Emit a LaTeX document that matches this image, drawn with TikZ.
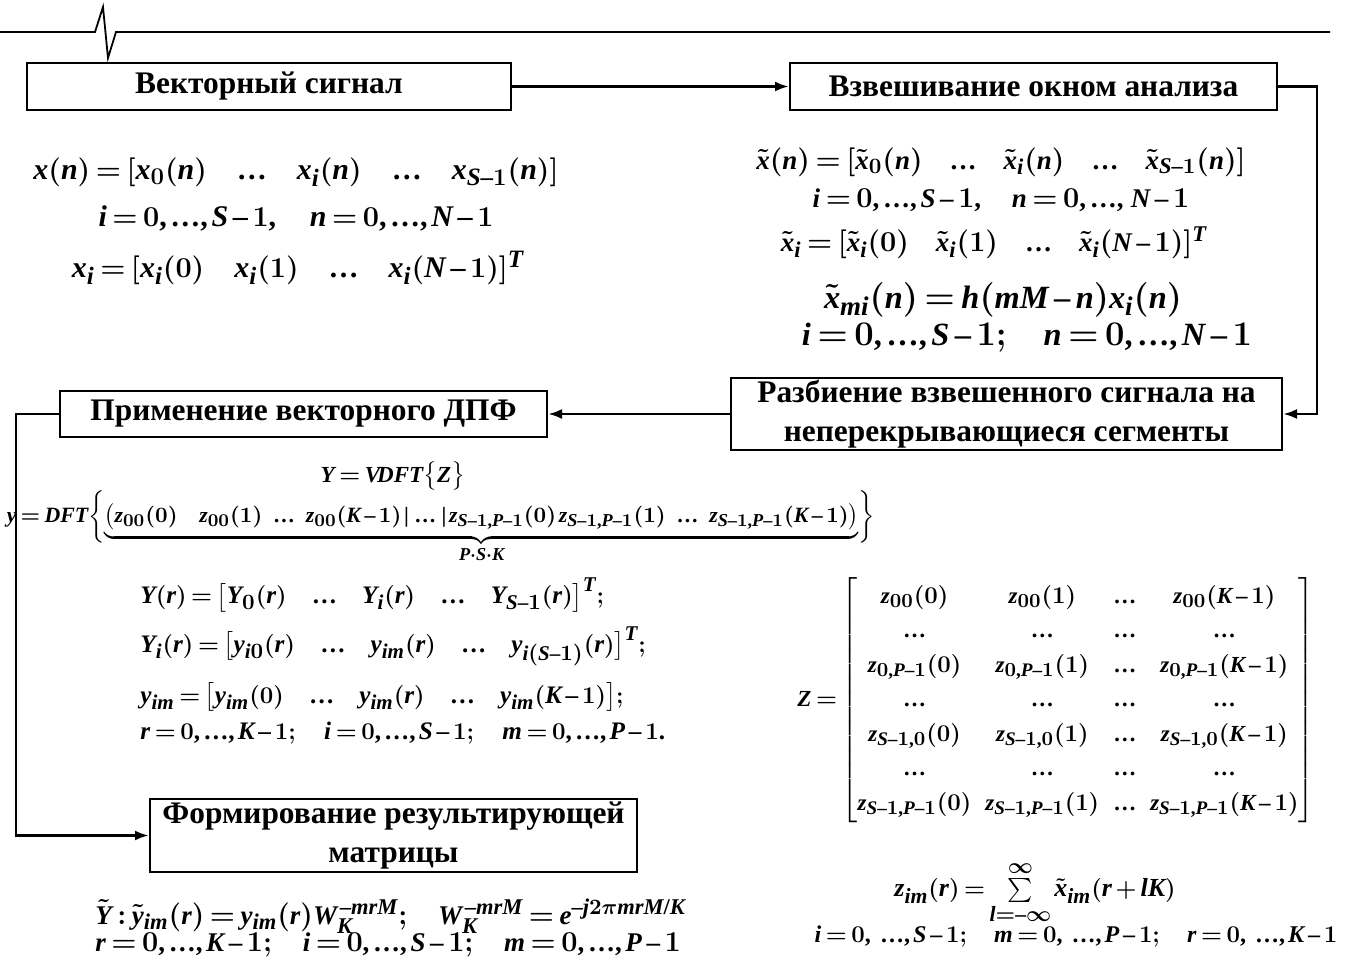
\documentclass[tikz,border=0pt]{standalone}
\usepackage{amsmath}
\usepackage{fontspec}
\setmainfont{Liberation Serif}
\usepackage[italic]{mathastext}
\usetikzlibrary{arrows.meta}
\newcommand\dts{\mbox{\normalfont\bfseries …}}
\tikzset{
  box/.style={draw,line width=1pt,inner sep=0pt,align=center,font=\fontsize{15.7}{19.5}\selectfont\bfseries},
  conn/.style={line width=1.4pt,-{Latex[length=7pt,width=5pt]}},
  fm/.style={inner sep=0pt},
}
\newcommand\fmfont[1]{\fontsize{#1}{#1}\selectfont\bfseries\boldmath\thinmuskip=2mu\relax\medmuskip=2.5mu\relax\thickmuskip=3mu\relax}
\begin{document}
\begin{tikzpicture}[x=0.5pt,y=-0.5pt]
\useasboundingbox (0,0) rectangle (1345,973);
% top rule with spike
\draw[line width=0.9pt] (0,32) -- (95,32) -- (103,7) -- (108,58) -- (116,32) -- (1330,32);
% boxes
\node[box,minimum width=242pt,minimum height=23.5pt] (b1) at (269,86.5) {Векторный сигнал};
\node[box,minimum width=243.5pt,minimum height=23.5pt] (b2) at (1033.5,86.5) {Взвешивание окном анализа};
\node[box,minimum width=275.5pt,minimum height=36pt] (b3) at (1006.5,414) {Разбиение взвешенного сигнала на\\неперекрывающиеся сегменты};
\node[box,minimum width=243.5pt,minimum height=23pt] (b4) at (303.5,414) {Применение векторного ДПФ};
\node[box,minimum width=243.5pt,minimum height=36.5pt] (b5) at (393.5,835.5) {Формирование результирующей\\матрицы};
% connectors
\draw[conn] (b1) -- (b2);
\draw[conn] (b2.east) -- ++(39,0) |- (b3.east);
\draw[conn] (b3) -- (b4);
\draw[conn] (b4.west) -- ++(-43,0) |- (b5.west);
% left formulas
\begin{scope}[every node/.style={fm,font=\fmfont{15}}]
\node (l1) at (296,172) {$x(n)=[x_0(n)\quad\dts\quad x_i(n)\quad\dts\quad x_{S-1}(n)]$};
\node (l2) at (296,218) {$i=0,\dts,S-1,\quad n=0,\dts,N-1$};
\node (l3) at (298,268) {$x_i=[x_i(0)\quad x_i(1)\quad\dts\quad x_i(N-1)]^T$};
\end{scope}
% right formulas
\begin{scope}[every node/.style={fm,font=\fmfont{13.5}}]
\node (r1) at (1001,162) {$\tilde x(n)=[\tilde x_0(n)\quad\dts\quad\tilde x_i(n)\quad\dts\quad\tilde x_{S-1}(n)]$};
\node (r2) at (1001,200) {$i=0,\dts,S-1,\quad n=0,\dts,\,N-1$};
\node (r3) at (994,243) {$\tilde x_i=[\tilde x_i(0)\quad\tilde x_i(1)\quad\dts\quad\tilde x_i(N-1)]^T$};
\end{scope}
\begin{scope}[every node/.style={fm,font=\fmfont{16.2}}]
\node (r4) at (1003,300) {$\tilde x_{mi}(n)=h(mM-n)x_i(n)$};
\node (r5) at (1027,338) {$i=0,\dts,S-1;\quad n=0,\dts,N-1$};
\end{scope}
% middle formulas
\node[fm,font=\fmfont{11.5}] (m1) at (393,476) {$Y=V\!DFT\bigl\{Z\bigr\}$};
\node[fm,font=\fmfont{10.9}] (m2) at (441,527) {$y=DFT\biggl\{\underbrace{\bigl(z_{00}(0)\quad z_{00}(1)\ \ \dts\ \ z_{00}(K-1)\,|\ \dts\ |\,z_{S-1,P-1}(0)\,z_{S-1,P-1}(1)\ \ \dts\ \ z_{S-1,P-1}(K-1)\bigr)}_{P\cdot S\cdot K}\biggr\}$};
\begin{scope}[every node/.style={fm,anchor=west,font=\fmfont{12.6}}]
\node (m3) at (140,595) {$Y(r)=\bigl[Y_0(r)\quad\dts\quad Y_i(r)\quad\dts\quad Y_{S-1}(r)\bigr]^T;$};
\node (m4) at (140,646) {$Y_i(r)=\bigl[y_{i0}(r)\quad\dts\quad y_{im}(r)\quad\dts\quad y_{i(S-1)}(r)\bigr]^T;$};
\node (m5) at (140,697) {$y_{im}=\bigl[y_{im}(0)\quad\dts\quad y_{im}(r)\quad\dts\quad y_{im}(K-1)\bigr];$};
\node (m6) at (140,733) {$r=0,\dts,K-1;\quad i=0,\dts,S-1;\quad m=0,\dts,P-1.$};
\end{scope}
% matrix
\node[fm,font=\fmfont{11.5}] (zm) at (1056,700) {$Z=\renewcommand{\arraystretch}{1.5}\setlength{\arraycolsep}{3.5pt}\begin{bmatrix}
z_{00}(0) & z_{00}(1) & \dts & z_{00}(K-1)\\
\dts & \dts & \dts & \dts\\
z_{0,P-1}(0) & z_{0,P-1}(1) & \dts & z_{0,P-1}(K-1)\\
\dts & \dts & \dts & \dts\\
z_{S-1,0}(0) & z_{S-1,0}(1) & \dts & z_{S-1,0}(K-1)\\
\dts & \dts & \dts & \dts\\
z_{S-1,P-1}(0) & z_{S-1,P-1}(1) & \dts & z_{S-1,P-1}(K-1)
\end{bmatrix}$};
% bottom right
\node[fm,font=\fmfont{13}] (zs) at (1035,893) {$z_{im}(r)=\sum\limits_{l=-\infty}^{\infty}\tilde x_{im}(r+lK)$};
\node[fm,font=\fmfont{12}] (zc) at (1076,937) {$i=0,\ \dts,S-1;\quad m=0,\ \dts,P-1;\quad r=0,\ \dts,K-1$};
% bottom left
\begin{scope}[every node/.style={fm,anchor=west,font=\fmfont{13.5}}]
\node (y1) at (95,916) {$\tilde Y:\tilde y_{im}(r)=y_{im}(r)W_K^{\,-mrM};\quad W_K^{\,-mrM}=e^{-j2\pi mrM/K}$};
\node (y2) at (95,945) {$r=0,\dts,K-1;\quad i=0,\dts,S-1;\quad m=0,\dts,P-1$};
\end{scope}
\end{tikzpicture}
\end{document}
